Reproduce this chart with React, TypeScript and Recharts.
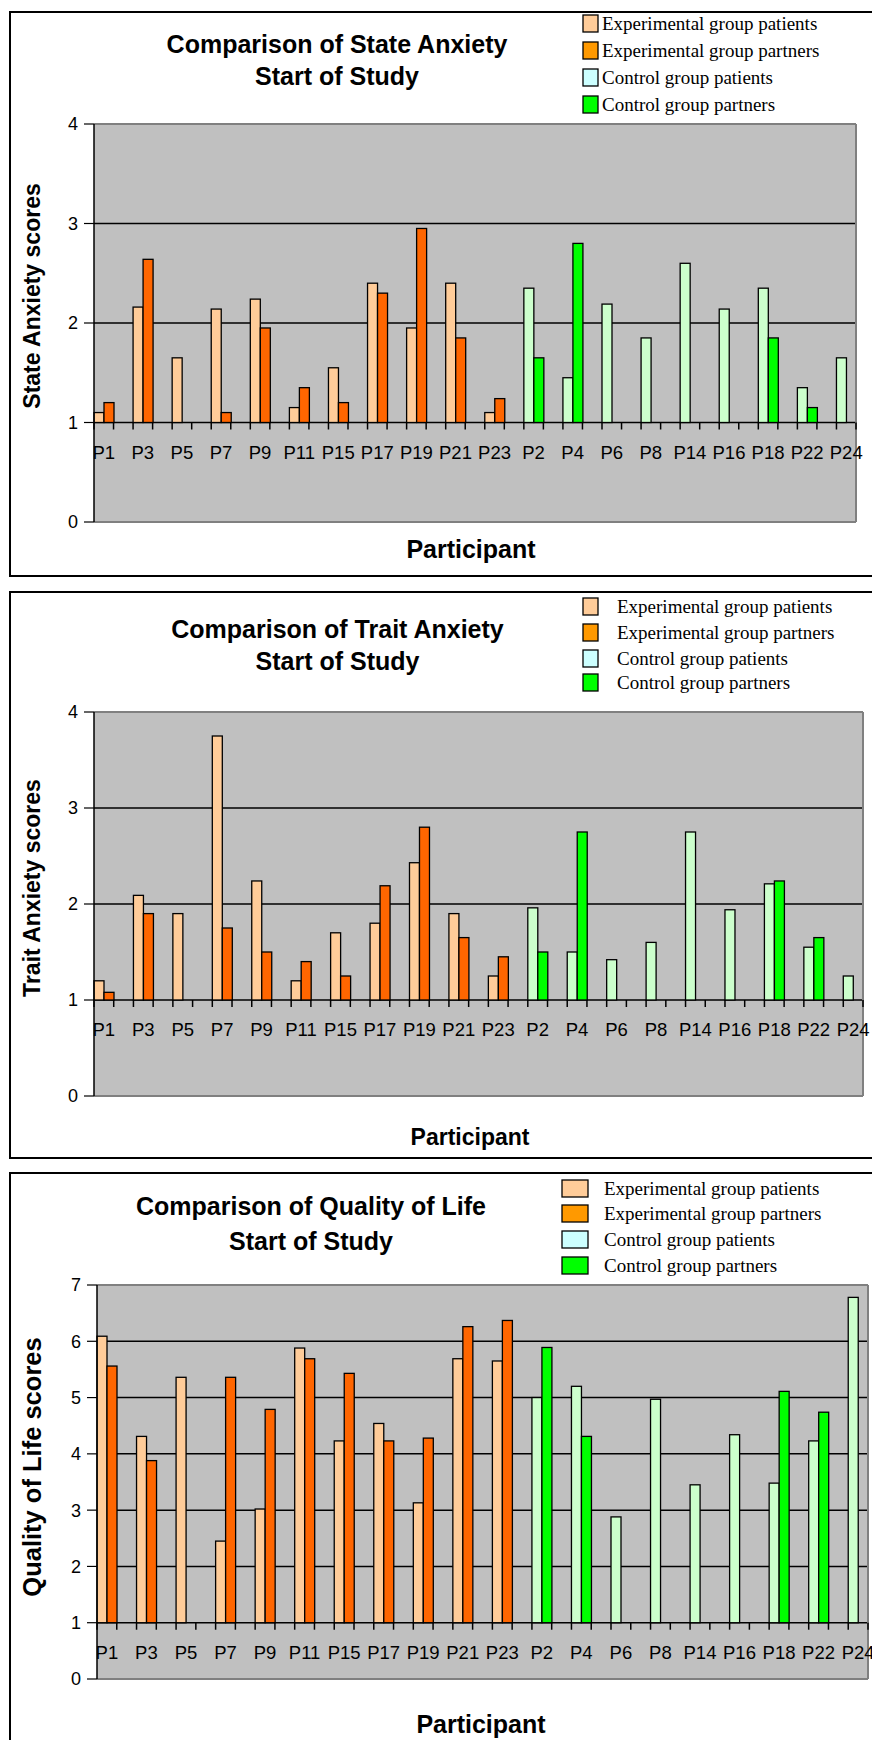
import React from 'react';
import { BarChart, Bar, XAxis, YAxis, CartesianGrid } from 'recharts';

// participants in the order Excel plotted them: experimental group first, then control group
const participants = [
  'P1', 'P3', 'P5', 'P7', 'P9', 'P11', 'P15', 'P17', 'P19', 'P21', 'P23',
  'P2', 'P4', 'P6', 'P8', 'P14', 'P16', 'P18', 'P22', 'P24',
];
const EXP_COUNT = 11;

// State anxiety, start of study
const stateExpPatients = [1.1, 2.16, 1.65, 2.14, 2.24, 1.15, 1.55, 2.4, 1.95, 2.4, 1.1];
const stateExpPartners = [1.2, 2.64, null, 1.1, 1.95, 1.35, 1.2, 2.3, 2.95, 1.85, 1.24];
const stateCtrlPatients = [2.35, 1.45, 2.19, 1.85, 2.6, 2.14, 2.35, 1.35, 1.65];
const stateCtrlPartners = [1.65, 2.8, null, null, null, null, 1.85, 1.15, null];
const stateTicks = [0, 1, 2, 3, 4];

// Trait anxiety, start of study
const traitExpPatients = [1.2, 2.09, 1.9, 3.75, 2.24, 1.2, 1.7, 1.8, 2.43, 1.9, 1.25];
const traitExpPartners = [1.08, 1.9, null, 1.75, 1.5, 1.4, 1.25, 2.19, 2.8, 1.65, 1.45];
const traitCtrlPatients = [1.96, 1.5, 1.42, 1.6, 2.75, 1.94, 2.21, 1.55, 1.25];
const traitCtrlPartners = [1.5, 2.75, null, null, null, null, 2.24, 1.65, null];
const traitTicks = [0, 1, 2, 3, 4];

// Quality of life, start of study
const qolExpPatients = [6.09, 4.31, 5.36, 2.45, 3.02, 5.88, 4.23, 4.54, 3.13, 5.69, 5.65];
const qolExpPartners = [5.56, 3.88, null, 5.36, 4.79, 5.69, 5.43, 4.23, 4.28, 6.26, 6.37];
const qolCtrlPatients = [5.0, 5.2, 2.88, 4.97, 3.45, 4.34, 3.48, 4.23, 6.78];
const qolCtrlPartners = [5.89, 4.31, null, null, null, null, 5.11, 4.74, null];
const qolTicks = [0, 1, 2, 3, 4, 5, 6, 7];

const legendLabels = [
  'Experimental group patients',
  'Experimental group partners',
  'Control group patients',
  'Control group partners',
];
const LEGEND_COLORS = ['#ffcc99', '#ff9900', '#ccffff', '#00ff00'];
const BAR_COLORS = ['#ffcc99', '#ff6600', '#ccffcc', '#00ff00'];
const SERIES = ['expPat', 'expPart', 'ctrlPat', 'ctrlPart'];
const STACKS = ['pat', 'par', 'pat', 'par'];

const SANS = '"Liberation Sans", Arial, sans-serif';
const SERIF = '"Liberation Serif", "Times New Roman", serif';
const W = 872;
const H = 580;

type Num = number | null;

// one empty category sits between two participants, as in the workbook
function buildRows(expPat: Num[], expPart: Num[], ctrlPat: Num[], ctrlPart: Num[]) {
  const rows: any[] = [];
  participants.forEach((name, i) => {
    if (i > 0) rows.push({ slot: `_${i}` });
    const exp = i < EXP_COUNT;
    const j = exp ? i : i - EXP_COUNT;
    rows.push({
      slot: name,
      expPat: exp ? expPat[j] : null,
      expPart: exp ? expPart[j] : null,
      ctrlPat: exp ? null : ctrlPat[j],
      ctrlPart: exp ? null : ctrlPart[j],
    });
  });
  return rows;
}

const panels = [
  {
    top: 0,
    rows: buildRows(stateExpPatients, stateExpPartners, stateCtrlPatients, stateCtrlPartners),
    ticks: stateTicks,
    plot: { left: 94, right: 856, top: 124, bottom: 522 },
    title: ['Comparison of State Anxiety', 'Start of Study'],
    titleX: 337,
    titleY: [53, 85],
    yTitle: { text: 'State Anxiety scores', y: 296, size: 23 },
    xTitle: { x: 471, y: 558, size: 25 },
    legend: { swX: 583, swW: 15, textX: 602, ys: [30, 57, 84, 111] },
    box: { y: 12, h: 564 },
  },
  {
    top: 580,
    rows: buildRows(traitExpPatients, traitExpPartners, traitCtrlPatients, traitCtrlPartners),
    ticks: traitTicks,
    plot: { left: 94, right: 863, top: 132, bottom: 516 },
    title: ['Comparison of Trait Anxiety', 'Start of Study'],
    titleX: 337.5,
    titleY: [58, 90],
    yTitle: { text: 'Trait Anxiety scores', y: 308, size: 23 },
    xTitle: { x: 470, y: 565, size: 23 },
    legend: { swX: 583, swW: 15, textX: 617, ys: [33, 59, 85, 109] },
    box: { y: 12, h: 566 },
  },
  {
    top: 1160,
    rows: buildRows(qolExpPatients, qolExpPartners, qolCtrlPatients, qolCtrlPartners),
    ticks: qolTicks,
    plot: { left: 97, right: 868, top: 125, bottom: 519 },
    title: ['Comparison of Quality of Life', 'Start of Study'],
    titleX: 311,
    titleY: [55, 90],
    yTitle: { text: 'Quality of Life scores', y: 307, size: 25.5 },
    xTitle: { x: 481, y: 573, size: 25 },
    legend: { swX: 562, swW: 26, textX: 604, ys: [35, 60, 86, 112] },
    box: { y: 13, h: 700 },
  },
];

// bars rise from the value 1, where the category axis crosses
const clippedBar = (key: string) => (p: any) => {
  const v = p.payload ? p.payload[key] : null;
  if (v == null || !p.height) return <g />;
  const base = p.y + p.height;
  const yOne = base - p.height / v;
  return (
    <rect
      x={p.x}
      y={p.y}
      width={p.width}
      height={Math.max(0, yOne - p.y)}
      fill={p.fill}
      stroke="#000"
      strokeWidth={1.3}
    />
  );
};

function CatTick(p: any) {
  const { x, payload, index, yLine, bw, count } = p;
  const name = String(payload.value);
  const label = name.startsWith('_') ? '' : name;
  return (
    <g>
      <line x1={x - bw / 2} x2={x - bw / 2} y1={yLine} y2={yLine + 7} stroke="#000" strokeWidth={1.5} />
      {index === count - 1 && (
        <line x1={x + bw / 2} x2={x + bw / 2} y1={yLine} y2={yLine + 7} stroke="#000" strokeWidth={1.5} />
      )}
      {label && (
        <text x={x} y={yLine + 36} textAnchor="middle" fontSize={18.5} fontFamily={SANS} fill="#000">
          {label}
        </text>
      )}
    </g>
  );
}

function Panel({ cfg }: { cfg: (typeof panels)[number] }) {
  const { plot, ticks, rows } = cfg;
  const yMax = ticks[ticks.length - 1];
  const plotH = plot.bottom - plot.top;
  const yLine = plot.top + plotH * (1 - 1 / yMax);
  const bw = (plot.right - plot.left) / rows.length;
  const yTitleX = 32;

  return (
    <div style={{ position: 'absolute', left: 0, top: cfg.top, width: W, height: H }}>
      <BarChart
        width={W}
        height={H}
        data={rows}
        margin={{ top: plot.top, right: W - plot.right, bottom: H - plot.bottom - 1, left: 0 }}
        barCategoryGap={0}
        barGap={0}
      >
        <CartesianGrid vertical={false} stroke="#000" strokeWidth={1.5} fill="#c0c0c0" fillOpacity={1} />
        <CartesianGrid
          horizontalCoordinatesGenerator={({ offset }: any) => [offset.top, offset.top + offset.height]}
          verticalCoordinatesGenerator={({ offset }: any) => [offset.left + offset.width]}
          stroke="#808080"
          strokeWidth={2}
        />
        <XAxis
          dataKey="slot"
          interval={0}
          height={1}
          axisLine={false}
          tickLine={false}
          tick={(p: any) => <CatTick {...p} yLine={yLine} bw={bw} count={rows.length} />}
        />
        <YAxis
          width={plot.left}
          domain={[0, yMax]}
          ticks={ticks}
          interval={0}
          tickSize={10}
          tickMargin={6}
          axisLine={{ stroke: '#000', strokeWidth: 1.5 }}
          tickLine={{ stroke: '#000', strokeWidth: 1.2 }}
          tick={{ fill: '#000', fontSize: 18, fontFamily: SANS }}
        />
        {SERIES.map((key, i) => (
          <Bar
            key={key}
            dataKey={key}
            stackId={STACKS[i]}
            fill={BAR_COLORS[i]}
            isAnimationActive={false}
            shape={clippedBar(key)}
          />
        ))}
      </BarChart>
      <svg
        width={W}
        height={H}
        style={{ position: 'absolute', left: 0, top: 0, pointerEvents: 'none' }}
      >
        {cfg.title.map((t, i) => (
          <text
            key={t}
            x={cfg.titleX}
            y={cfg.titleY[i]}
            textAnchor="middle"
            fontSize={25}
            fontWeight="bold"
            fontFamily={SANS}
          >
            {t}
          </text>
        ))}
        {legendLabels.map((label, i) => (
          <g key={label}>
            <rect
              x={cfg.legend.swX}
              y={cfg.legend.ys[i] - 15}
              width={cfg.legend.swW}
              height={17}
              fill={LEGEND_COLORS[i]}
              stroke="#000"
              strokeWidth={1.3}
            />
            <text x={cfg.legend.textX} y={cfg.legend.ys[i]} fontSize={19} fontFamily={SERIF}>
              {label}
            </text>
          </g>
        ))}
        <text
          x={yTitleX}
          y={cfg.yTitle.y}
          transform={`rotate(-90 ${yTitleX} ${cfg.yTitle.y})`}
          textAnchor="middle"
          dominantBaseline="central"
          fontSize={cfg.yTitle.size}
          fontWeight="bold"
          fontFamily={SANS}
        >
          {cfg.yTitle.text}
        </text>
        <text
          x={cfg.xTitle.x}
          y={cfg.xTitle.y}
          textAnchor="middle"
          fontSize={cfg.xTitle.size}
          fontWeight="bold"
          fontFamily={SANS}
        >
          Participant
        </text>
        <rect x={10} y={cfg.box.y} width={900} height={cfg.box.h} fill="none" stroke="#000" strokeWidth={2} />
      </svg>
    </div>
  );
}

export default function App() {
  return (
    <div
      style={{
        position: 'absolute',
        left: 0,
        top: 0,
        width: W,
        height: 1740,
        overflow: 'hidden',
        background: '#fff',
      }}
    >
      {panels.map((cfg) => (
        <Panel key={cfg.top} cfg={cfg} />
      ))}
    </div>
  );
}
